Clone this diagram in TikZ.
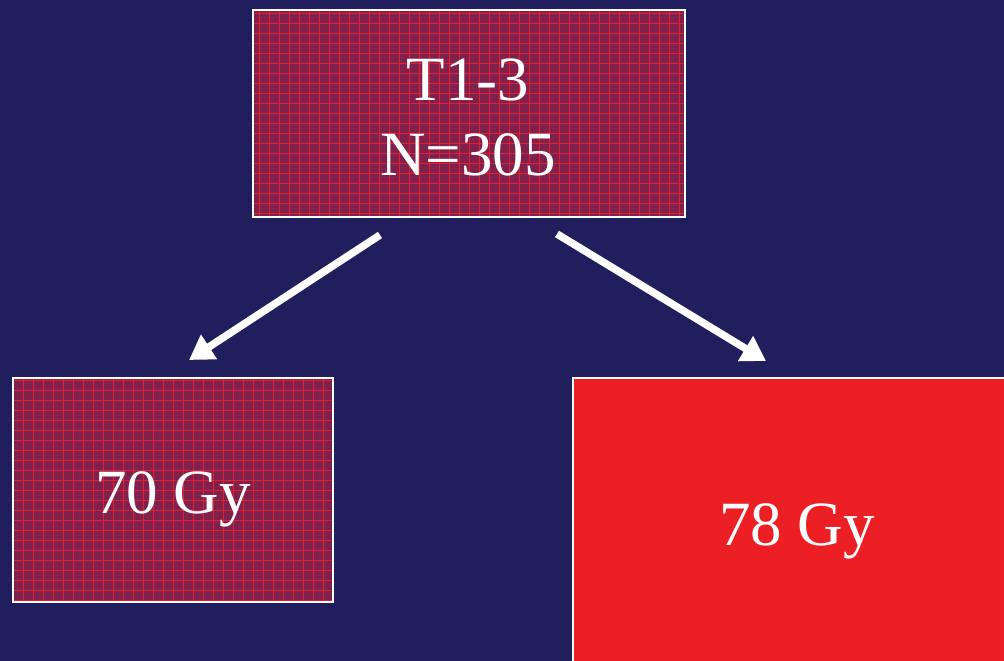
\documentclass[tikz,border=0pt]{standalone}
\usepackage{fontspec}
\setmainfont{Liberation Serif}
\usetikzlibrary{arrows.meta}
\definecolor{bg}{HTML}{211E5E}
\definecolor{maroon}{HTML}{80204C}
\definecolor{gridred}{HTML}{E2202C}
\definecolor{boxred}{HTML}{EC2024}
\tikzset{
  gridbox/.style={draw=white, line width=2pt, fill=maroon, inner sep=0pt,
    path picture={
      \draw[gridred, line width=0.9pt] (path picture bounding box.south west) grid[step=10pt] (path picture bounding box.north east);
    }},
  solidbox/.style={draw=white, line width=2pt, fill=boxred, inner sep=0pt},
  lbl/.style={text=white, font=\fontsize{63}{75}\selectfont, align=center},
  arr/.style={white, line width=7.5pt, -{Triangle[length=24pt,width=28pt]}}
}
\begin{document}
\begin{tikzpicture}[x=1pt,y=1pt]
\fill[bg] (0,0) rectangle (1004,661);
\useasboundingbox (0,0) rectangle (1004,661);
\node[gridbox, minimum width=432pt, minimum height=207pt] (top) at (469,547.5) {};
\node[lbl] (toptext) at (468,544) {T1-3\\N=305};
\node[gridbox, minimum width=320pt, minimum height=224pt] (left) at (173,171) {};
\node[lbl] (lefttext) at (173,162) {70 Gy};
\node[solidbox, minimum width=440pt, minimum height=300pt] (right) at (793,133) {};
\node[lbl] (righttext) at (797,130) {78 Gy};
\coordinate (a1s) at (380,426);
\coordinate (a1e) at (189,301);
\coordinate (a2s) at (557,427);
\coordinate (a2e) at (766,300);
\draw[arr] (a1s) -- (a1e);
\draw[arr] (a2s) -- (a2e);
\end{tikzpicture}
\end{document}
